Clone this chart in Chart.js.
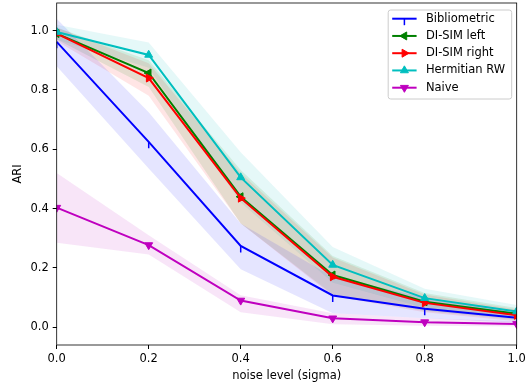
<!DOCTYPE html>
<html>
<head>
<meta charset="utf-8">
<script src="https://cdn.jsdelivr.net/npm/chart.js@4.4.1/dist/chart.umd.min.js"></script>
<style>
  body { margin: 0; background: #fff; }
  #wrap { width: 531px; height: 385px; position: relative; }
</style>
</head>
<body>
<div id="wrap"><canvas id="myChart"></canvas></div>
<script>
// noise levels on x axis
const noise = [0.0, 0.2, 0.4, 0.6, 0.8, 1.0];
const xTicks = [0.0, 0.2, 0.4, 0.6, 0.8, 1.0];
const yTicks = [0.0, 0.2, 0.4, 0.6, 0.8, 1.0];

const names = ["Bibliometric", "DI-SIM left", "DI-SIM right", "Hermitian RW", "Naive"];

// mean ARI per method
const biblioMean = [0.962, 0.625, 0.274, 0.107, 0.062, 0.032];
const leftMean = [0.99, 0.857, 0.44, 0.176, 0.086, 0.045];
const rightMean = [0.99, 0.84, 0.435, 0.17, 0.082, 0.04];
const hermMean = [0.995, 0.918, 0.505, 0.21, 0.098, 0.053];
const naiveMean = [0.403, 0.277, 0.09, 0.03, 0.017, 0.011];

// shaded band edges
const biblioUpper = [1.04, 0.725, 0.35, 0.17, 0.10, 0.05];
const biblioLower = [0.88, 0.535, 0.195, 0.047, 0.03, 0.015];
const leftUpper = [1.01, 0.90, 0.53, 0.24, 0.115, 0.065];
const leftLower = [0.97, 0.81, 0.35, 0.11, 0.055, 0.025];
const rightUpper = [1.01, 0.89, 0.52, 0.235, 0.11, 0.06];
const rightLower = [0.965, 0.78, 0.35, 0.105, 0.05, 0.02];
const hermUpper = [1.02, 0.96, 0.59, 0.27, 0.13, 0.075];
const hermLower = [0.97, 0.875, 0.42, 0.15, 0.065, 0.03];
const naiveUpper = [0.52, 0.31, 0.108, 0.047, 0.03, 0.02];
const naiveLower = [0.285, 0.245, 0.05, 0.01, 0.005, 0.002];

const means = [biblioMean, leftMean, rightMean, hermMean, naiveMean];
const uppers = [biblioUpper, leftUpper, rightUpper, hermUpper, naiveUpper];
const lowers = [biblioLower, leftLower, rightLower, hermLower, naiveLower];

const colors = ["#0000ff", "#008000", "#ff0000", "#00bfbf", "#bf00bf"];
const bandColors = ["rgba(0,0,255,0.1)", "rgba(0,128,0,0.1)", "rgba(255,0,0,0.1)", "rgba(0,191,191,0.1)", "rgba(191,0,191,0.1)"];
const markers = [
  { style: "dash", rot: 90, r: 6.5 },
  { style: "triangle", rot: -90, r: 4.6 },
  { style: "triangle", rot: 90, r: 4.6 },
  { style: "triangle", rot: 0, r: 4.6 },
  { style: "triangle", rot: 180, r: 4.6 },
];

const FONT = "'DejaVu Sans', sans-serif";

function toPoints(arr) {
  return arr.map((v, i) => ({ x: noise[i], y: v }));
}

let datasets = [];
// bands first (drawn under lines)
names.forEach((name, i) => {
  datasets.push({
    label: "band-up-" + i,
    data: toPoints(uppers[i]),
    borderWidth: 0,
    pointRadius: 0,
    backgroundColor: bandColors[i],
    fill: "+1",
    order: 20 + i,
  });
  datasets.push({
    label: "band-low-" + i,
    data: toPoints(lowers[i]),
    borderWidth: 0,
    pointRadius: 0,
    backgroundColor: "rgba(0,0,0,0)",
    fill: false,
    order: 20 + i,
  });
});
names.forEach((name, i) => {
  datasets.push({
    label: name,
    data: toPoints(means[i]),
    borderColor: colors[i],
    backgroundColor: colors[i],
    borderWidth: 2,
    fill: false,
    pointStyle: markers[i].style,
    rotation: markers[i].rot,
    pointRadius: markers[i].r,
    pointBorderWidth: markers[i].style === "dash" ? 1.5 : 1,
    order: 5 - i,
  });
});

function drawMarker(ctx, m, x, y, color) {
  ctx.save();
  ctx.fillStyle = color;
  ctx.strokeStyle = color;
  const rad = (m.rot * Math.PI) / 180;
  ctx.beginPath();
  if (m.style === "dash") {
    ctx.lineWidth = 1.5;
    ctx.moveTo(x, y);
    ctx.lineTo(x + Math.cos(rad) * m.r, y + Math.sin(rad) * m.r);
    ctx.stroke();
  } else {
    let a = rad;
    ctx.lineWidth = 1;
    ctx.moveTo(x + Math.sin(a) * m.r, y - Math.cos(a) * m.r);
    a += (2 * Math.PI) / 3;
    ctx.lineTo(x + Math.sin(a) * m.r, y - Math.cos(a) * m.r);
    a += (2 * Math.PI) / 3;
    ctx.lineTo(x + Math.sin(a) * m.r, y - Math.cos(a) * m.r);
    ctx.closePath();
    ctx.fill();
    ctx.stroke();
  }
  ctx.restore();
}

// legend box in upper right like matplotlib
const legendBox = {
  id: "legendBox",
  afterDraw(chart) {
    const ctx = chart.ctx;
    const ca = chart.chartArea;
    const w = 123.5, h = 89;
    const x0 = ca.right - 5 - w, y0 = ca.top + 7;
    ctx.save();
    ctx.beginPath();
    ctx.roundRect(x0, y0, w, h, 2.5);
    ctx.fillStyle = "rgba(255,255,255,0.8)";
    ctx.fill();
    ctx.strokeStyle = "#cccccc";
    ctx.lineWidth = 1;
    ctx.stroke();
    names.forEach((name, i) => {
      const y = y0 + 8.7 + i * 17.25;
      ctx.strokeStyle = colors[i];
      ctx.lineWidth = 2;
      ctx.beginPath();
      ctx.moveTo(x0 + 4, y);
      ctx.lineTo(x0 + 28.4, y);
      ctx.stroke();
      drawMarker(ctx, markers[i], x0 + 16.2, y, colors[i]);
      ctx.fillStyle = "#000";
      ctx.font = "11.5px " + FONT;
      ctx.textBaseline = "middle";
      ctx.textAlign = "left";
      ctx.fillText(name, x0 + 37.7, y);
    });
    ctx.restore();
  },
};

// full frame around the plot
const frame = {
  id: "frame",
  afterDatasetsDraw(chart) {
    const ctx = chart.ctx;
    const ca = chart.chartArea;
    ctx.save();
    ctx.strokeStyle = "#000";
    ctx.lineWidth = 0.8;
    ctx.strokeRect(ca.left, ca.top, ca.right - ca.left, ca.bottom - ca.top);
    ctx.restore();
  },
};

const config = {
  type: "line",
  data: { datasets: datasets },
  options: {
    responsive: true,
    maintainAspectRatio: false,
    animation: false,
    events: [],
    layout: { autoPadding: false, padding: { top: 3, right: 14.3, left: 0, bottom: 0 } },
    plugins: {
      legend: { display: false },
      tooltip: { enabled: false },
      filler: { propagate: false },
    },
    scales: {
      x: {
        type: "linear",
        min: 0,
        max: 1,
        afterBuildTicks: (scale) => {
          scale.ticks = xTicks.map((v) => ({ value: v }));
        },
        afterFit: (scale) => {
          scale.height = 40;
          scale.paddingLeft = 0;
          scale.paddingRight = 0;
        },
        ticks: {
          callback: (v) => v.toFixed(1),
          color: "#000",
          font: { family: FONT, size: 11.5 },
          padding: 3,
          maxRotation: 0,
        },
        grid: { drawOnChartArea: false, drawTicks: true, tickLength: 4, color: "#000" },
        border: { display: false },
        title: {
          display: true,
          text: "noise level (sigma)",
          color: "#000",
          font: { family: FONT, size: 11.5 },
          padding: { top: 0, bottom: 2 },
        },
      },
      y: {
        type: "linear",
        min: -0.06,
        max: 1.093,
        afterBuildTicks: (scale) => {
          scale.ticks = yTicks.map((v) => ({ value: v }));
        },
        afterFit: (scale) => {
          scale.width = 56.7;
          scale.paddingTop = 0;
          scale.paddingBottom = 0;
        },
        ticks: {
          callback: (v) => v.toFixed(1),
          color: "#000",
          font: { family: FONT, size: 11.5 },
          padding: 4,
        },
        grid: { drawOnChartArea: false, drawTicks: true, tickLength: 4, color: "#000" },
        border: { display: false },
        title: {
          display: true,
          text: "ARI",
          color: "#000",
          font: { family: FONT, size: 11.5 },
          padding: { top: 11, bottom: 0 },
        },
      },
    },
  },
  plugins: [frame, legendBox],
};

const ctx = document.getElementById("myChart");
const myChart = new Chart(ctx, config);
</script>
</body>
</html>
